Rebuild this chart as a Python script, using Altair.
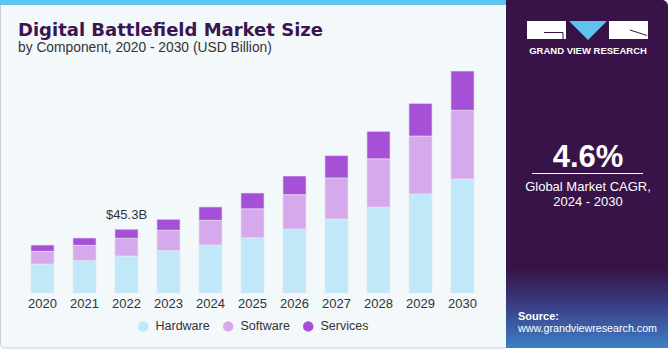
import altair as alt
import pandas as pd

years = [2020, 2021, 2022, 2023, 2024, 2025, 2026, 2027, 2028, 2029, 2030]
hardware = [20.6, 23.2, 26.3, 30.1, 34.1, 39.3, 45.5, 52.6, 61.1, 70.4, 81.1]
software = [9.0, 10.7, 12.6, 14.5, 17.6, 20.6, 24.4, 29.2, 34.3, 41.2, 48.8]
services = [4.5, 5.2, 6.4, 7.8, 9.5, 11.2, 13.3, 15.9, 19.5, 23.2, 27.9]
components = ["Hardware", "Software", "Services"]
colors = ["#BFE9F9", "#D5A9EC", "#A64FD7"]
annot_year = 2022
annot_text = "$45.3B"

title = "Digital Battlefield Market Size"
subtitle = "by Component, 2020 - 2030 (USD Billion)"
cagr = "4.6%"
cagr_l1 = "Global Market CAGR,"
cagr_l2 = "2024 - 2030"

rows = []
for i, y in enumerate(years):
    for k, (c, s) in enumerate(zip(components, [hardware, software, services])):
        rows.append({"year": str(y), "component": c, "value": s[i], "ord": k})
df = pd.DataFrame(rows)
year_df = pd.DataFrame({"year": [str(y) for y in years]})
ia = years.index(annot_year)
ann_df = pd.DataFrame({"year": [str(annot_year)],
                       "total": [hardware[ia] + software[ia] + services[ia]],
                       "label": [annot_text]})

one = alt.Data(values=[{"a": 1}])
FONT = "Liberation Sans"

xscale = alt.Scale(range=[21.5, 483.5], paddingInner=0.45, paddingOuter=0.225)
yscale = alt.Scale(domain=[0, 100], range=[293, 152.35], nice=False, zero=True)


def rect(x, x2, y, y2, color, **kw):
    return alt.Chart(one).mark_rect(color=color, **kw).encode(
        x=alt.value(x), x2=alt.value(x2), y=alt.value(y), y2=alt.value(y2))


def text(t, x, y, size, color, weight="normal", align="left", font=FONT):
    return alt.Chart(one).mark_text(
        text=t, fontSize=size, color=color, fontWeight=weight, align=align,
        baseline="alphabetic", font=font).encode(x=alt.value(x), y=alt.value(y))


def rule(x, x2, y, y2, color, w=1):
    return alt.Chart(one).mark_rule(color=color, strokeWidth=w).encode(
        x=alt.value(x), x2=alt.value(x2), y=alt.value(y), y2=alt.value(y2))


bg_left = rect(0.5, 508, 0.5, 348, "#F3F8FB", stroke="#CFCFCF", strokeWidth=1, cornerRadius=4)
stripe = rect(0, 507, 0, 5, "#5CC4EF")
bg_right = rect(506, 668, 0, 348, "#381347", cornerRadiusTopRight=6)
grad = alt.Chart(one).mark_rect(
    color=alt.Gradient(gradient="linear",
                       stops=[alt.GradientStop(color="#381347", offset=0),
                              alt.GradientStop(color="#393C82", offset=0.45),
                              alt.GradientStop(color="#3E7FC6", offset=1)],
                       x1=0, x2=0, y1=0, y2=1)).encode(
    x=alt.value(506), x2=alt.value(668), y=alt.value(268), y2=alt.value(348))

logo_l = rect(527, 566, 21, 39, "#FFFFFF")
logo_tri = alt.Chart(one).mark_point(
    shape="M -1 -0.5 L 1 -0.5 L 0 0.5 Z", filled=True, color="#5CC4EF", opacity=1,
    size=1444, strokeWidth=0).encode(x=alt.value(588), y=alt.value(30.5))
logo_r = rect(609, 648, 21, 39, "#FFFFFF")
logo_g1 = rule(544, 563, 32.5, 32.5, "#381347")
logo_g2 = rule(563, 563, 32.5, 39, "#381347")
logo_r1 = rule(630, 647, 30, 35.5, "#381347")
logo_txt = text("GRAND VIEW RESEARCH", 588, 54, 9.5, "#FFFFFF", "bold", "center")

t_title = text(title, 18, 36, 18, "#3A1550", "bold", font="DejaVu Sans")
t_sub = text(subtitle, 18, 52, 13.8, "#333333")

t_cagr = text(cagr, 588, 167, 31, "#FFFFFF", "bold", "center")
cagr_line = rule(532, 643, 173.5, 173.5, "#FFFFFF")
t_c1 = text(cagr_l1, 588, 191, 13, "#FFFFFF", align="center")
t_c2 = text(cagr_l2, 588, 206, 13, "#FFFFFF", align="center")
t_src = text("Source:", 518, 320, 11, "#FFFFFF", "bold")
t_url = text("www.grandviewresearch.com", 518, 332, 10.7, "#FFFFFF")

bars = alt.Chart(df).mark_bar(stroke="#EDE6F3", strokeWidth=0.6).encode(
    x=alt.X("year:O", scale=xscale, axis=None),
    y=alt.Y("value:Q", stack="zero", scale=yscale, axis=None),
    color=alt.Color("component:N",
                    scale=alt.Scale(domain=components, range=colors),
                    legend=alt.Legend(orient="none", legendX=137, legendY=320,
                                      direction="horizontal", title=None,
                                      symbolType="circle", symbolSize=110,
                                      symbolStrokeWidth=0, labelFontSize=12.5,
                                      labelFont=FONT, labelColor="#333333",
                                      columnPadding=12, labelOffset=6)),
    order=alt.Order("ord:Q"),
)

year_labels = alt.Chart(year_df).mark_text(
    fontSize=13, color="#333333", font=FONT, baseline="alphabetic").encode(
    x=alt.X("year:O", scale=xscale, axis=None),
    y=alt.value(308), text="year:N")

ann = alt.Chart(ann_df).mark_text(
    fontSize=13, color="#333333", font=FONT, baseline="alphabetic", dy=-10).encode(
    x=alt.X("year:O", scale=xscale, axis=None),
    y=alt.Y("total:Q", scale=yscale, axis=None),
    text="label:N")

chart = alt.layer(
    bg_left, stripe, bg_right, grad,
    logo_l, logo_r, logo_tri, logo_g1, logo_g2, logo_r1, logo_txt,
    t_title, t_sub, t_cagr, cagr_line, t_c1, t_c2, t_src, t_url,
    bars, year_labels, ann,
).properties(
    width=670, height=350, padding=0, autosize=alt.AutoSizeParams(type="none"),
    background="#FFFFFF",
).configure_view(stroke=None)

chart.save("out.html", embed_options={"renderer": "svg", "actions": False})
